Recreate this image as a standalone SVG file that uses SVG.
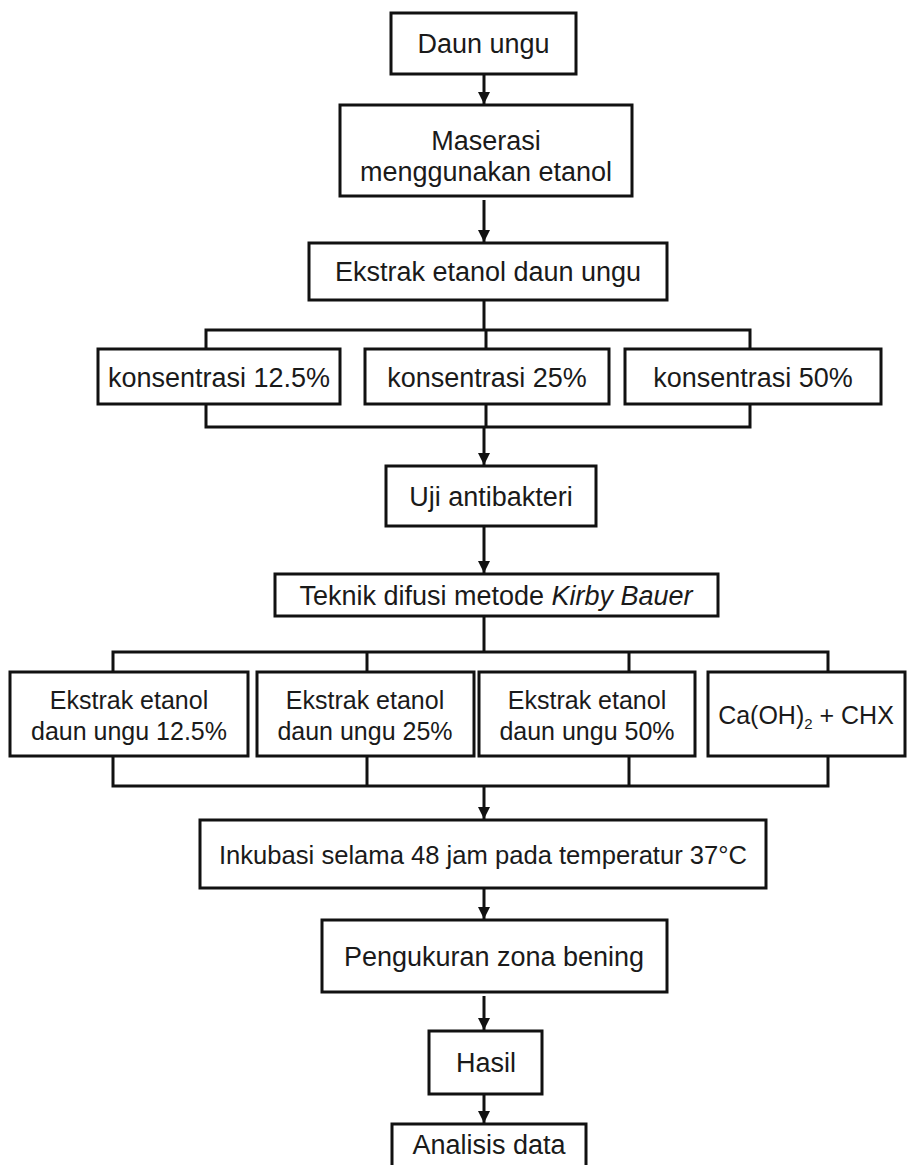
<svg xmlns="http://www.w3.org/2000/svg" width="911" height="1165" viewBox="0 0 911 1165">
<style>
.box{fill:#fff;stroke:#111;stroke-width:3}
.t{font-family:"Liberation Sans",Arial,sans-serif;font-size:27px;fill:#1a1a1a;text-anchor:middle}
.s{font-size:25px}
.c{fill:none;stroke:#111;stroke-width:3}
</style>
<defs>
<marker id="ah" markerUnits="userSpaceOnUse" markerWidth="14" markerHeight="14" viewBox="0 0 14 14" refX="12" refY="7" orient="auto">
<path d="M0,1 L12,7 L0,13 Z" fill="#111"/>
</marker>
</defs>
<rect width="911" height="1165" fill="#fff"/>
<g id="connectors">
<line class="c" x1="484" y1="74" x2="484" y2="104" marker-end="url(#ah)"/>
<line class="c" x1="484" y1="200" x2="484" y2="242" marker-end="url(#ah)"/>
<polyline class="c" points="484,300 484,330"/>
<polyline class="c" points="206,349 206,330 750,330 750,349"/>
<line class="c" x1="486" y1="330" x2="486" y2="349"/>
<polyline class="c" points="206,404 206,427 750,427 750,404"/>
<line class="c" x1="486" y1="404" x2="486" y2="427"/>
<line class="c" x1="484" y1="427" x2="484" y2="465" marker-end="url(#ah)"/>
<line class="c" x1="484" y1="526" x2="484" y2="573" marker-end="url(#ah)"/>
<line class="c" x1="484" y1="616" x2="484" y2="652"/>
<polyline class="c" points="113,672 113,652 828,652 828,672"/>
<line class="c" x1="367" y1="652" x2="367" y2="672"/>
<line class="c" x1="629" y1="652" x2="629" y2="672"/>
<polyline class="c" points="113,756 113,786 828,786 828,756"/>
<line class="c" x1="367" y1="756" x2="367" y2="786"/>
<line class="c" x1="629" y1="756" x2="629" y2="786"/>
<line class="c" x1="484" y1="786" x2="484" y2="819" marker-end="url(#ah)"/>
<line class="c" x1="484" y1="888" x2="484" y2="919" marker-end="url(#ah)"/>
<line class="c" x1="484" y1="996" x2="484" y2="1030" marker-end="url(#ah)"/>
<line class="c" x1="484" y1="1094" x2="484" y2="1123" marker-end="url(#ah)"/>
</g>
<g id="n1"><rect class="box" x="391" y="13" width="185" height="61"/><text class="t" x="483.5" y="53">Daun ungu</text></g>
<g id="n2"><rect class="box" x="340" y="105" width="292" height="91"/><text class="t" x="486" y="150">Maserasi</text><text class="t" x="486" y="181">menggunakan etanol</text></g>
<g id="n3"><rect class="box" x="309" y="243" width="358" height="57"/><text class="t" x="488" y="281">Ekstrak etanol daun ungu</text></g>
<g id="n4"><rect class="box" x="98" y="349" width="242" height="55"/><text class="t" x="219" y="387">konsentrasi 12.5%</text></g>
<g id="n5"><rect class="box" x="365" y="349" width="244" height="55"/><text class="t" x="487" y="387">konsentrasi 25%</text></g>
<g id="n6"><rect class="box" x="625" y="349" width="256" height="55"/><text class="t" x="753" y="387">konsentrasi 50%</text></g>
<g id="n7"><rect class="box" x="386" y="466" width="210" height="60"/><text class="t" x="491" y="506">Uji antibakteri</text></g>
<g id="n8"><rect class="box" x="275" y="574" width="443" height="42"/><text class="t" x="496" y="605">Teknik difusi metode <tspan font-style="italic">Kirby Bauer</tspan></text></g>
<g id="n9"><rect class="box" x="10" y="672" width="238" height="84"/><text class="t s" x="129" y="709">Ekstrak etanol</text><text class="t s" x="129" y="740">daun ungu 12.5%</text></g>
<g id="n10"><rect class="box" x="257" y="672" width="217" height="84"/><text class="t s" x="365" y="709">Ekstrak etanol</text><text class="t s" x="365" y="740">daun ungu 25%</text></g>
<g id="n11"><rect class="box" x="479" y="672" width="216" height="84"/><text class="t s" x="587" y="709">Ekstrak etanol</text><text class="t s" x="587" y="740">daun ungu 50%</text></g>
<g id="n12"><rect class="box" x="708" y="672" width="197" height="84"/><text class="t s" x="806" y="724">Ca(OH)<tspan font-size="15" dy="5">2</tspan><tspan dy="-5"> + CHX</tspan></text></g>
<g id="n13"><rect class="box" x="200" y="820" width="566" height="68"/><text class="t" style="font-size:25.6px" x="483" y="864">Inkubasi selama 48 jam pada temperatur 37°C</text></g>
<g id="n14"><rect class="box" x="322" y="920" width="345" height="72"/><text class="t" x="494" y="966">Pengukuran zona bening</text></g>
<g id="n15"><rect class="box" x="429" y="1031" width="113" height="63"/><text class="t" x="486" y="1072">Hasil</text></g>
<g id="n16"><rect class="box" x="392" y="1124" width="194" height="60"/><text class="t" x="489" y="1154">Analisis data</text></g>
</svg>
